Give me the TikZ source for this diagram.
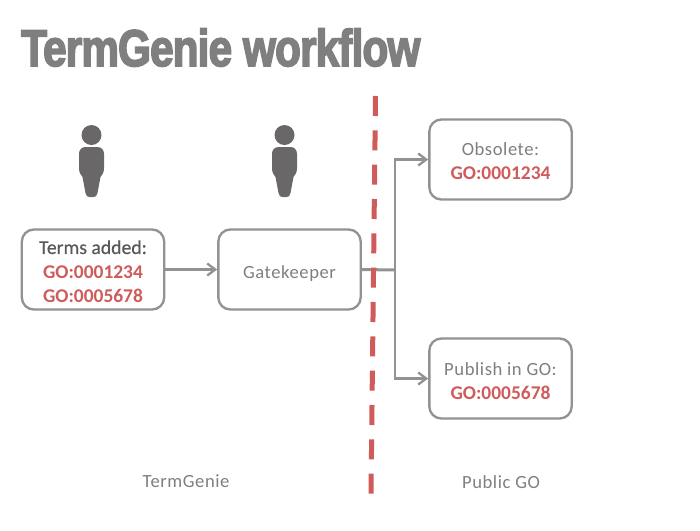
\documentclass[tikz,border=0pt]{standalone}
\usepackage{fontspec}
\setmainfont{Carlito}
\newfontfamily\titlefont[FakeBold=3.5]{Liberation Sans Bold}
\usetikzlibrary{arrows.meta}
\definecolor{box_gray}{HTML}{929292}
\definecolor{text_gray}{HTML}{7F7F7F}
\definecolor{dark_gray}{HTML}{595959}
\definecolor{go_red}{HTML}{CF5B5B}
\definecolor{person_gray}{HTML}{6A6768}
\newcommand{\goid}[1]{{\color{go_red}\fontsize{16.6}{20.6}\selectfont\bfseries #1}}
\newcommand{\lift}[1]{\rule{0pt}{#1}}
\newcommand{\person}[1]{
  \fill[person_gray,shift={(#1,0)}] (0,135) circle (10);
  \fill[person_gray,shift={(#1,0)}] (-6,147) -- (6,147)
    .. controls (10,147) and (12.5,150) .. (12.5,154) -- (12.5,168)
    .. controls (12.5,172) and (11,175) .. (9,177) -- (6,193)
    .. controls (5.6,196) and (4,197) .. (2,197) -- (-2,197)
    .. controls (-4,197) and (-5.6,196) .. (-6,193) -- (-9,177)
    .. controls (-11,175) and (-12.5,172) .. (-12.5,168) -- (-12.5,154)
    .. controls (-12.5,150) and (-10,147) .. (-6,147) -- cycle;
}
\tikzset{
  termbox/.style={draw=box_gray,line width=0.7mm,rounded corners=3.6mm,fill=white,
    minimum width=42.7mm,minimum height=24mm,inner sep=0pt,align=center,
    text=text_gray,font=\fontsize{15.9}{20.6}\selectfont},
  flow/.style={draw=box_gray,line width=0.7mm,-{Straight Barb[length=2.4mm,width=3.6mm]}},
  caption/.style={text=text_gray,font=\fontsize{15.9}{18}\selectfont}
}
\begin{document}
\begin{tikzpicture}[x=0.3mm,y=-0.3mm]
  \useasboundingbox (0,0) rectangle (700,530);
  % Titre
  \node[text=text_gray,anchor=base west,inner sep=0pt] (title) at (21,66)
    {\scalebox{0.82}[1]{\titlefont\fontsize{44}{44}\selectfont\addfontfeature{LetterSpace=-2}TermGenie workflow}};
  % Personnes
  \person{91.5}
  \person{284.5}
  % Boites
  \node[termbox] (terms) at (93,269.5) {\lift{5.2mm}{\color{dark_gray}\fontsize{16.8}{20.6}\selectfont\addfontfeature{FakeBold=0.4}Terms added:}\\\goid{GO:0001234}\\\goid{GO:0005678}};
  \node[termbox] (gate) at (289.5,269.5) {\lift{6.4mm}\addfontfeature{LetterSpace=3}Gatekeeper};
  \node[termbox] (obsolete) at (500.5,159.5) {\lift{5mm}\addfontfeature{LetterSpace=3}Obsolete:\\\goid{GO:0001234}};
  \node[termbox] (publish) at (500.5,378.5) {\lift{5.2mm}\addfontfeature{LetterSpace=3}Publish in GO:\\\goid{GO:0005678}};
  % Fleches
  \coordinate (split) at (395,270);
  \draw[flow] (terms.east) -- (gate.west);
  \draw[draw=box_gray,line width=0.9mm] (gate.east) -- (split);
  \draw[flow] (split) |- (obsolete.west);
  \draw[flow] (split) |- (publish.west);
  % Ligne rouge
  \coordinate (top) at (375.5,96);
  \coordinate (bottom) at (371,494);
  \draw[go_red,line width=1.5mm,dash pattern=on 6mm off 4.3mm] (top) -- (bottom);
  % Legendes
  \node[caption] (termgenie) at (186,481) {\addfontfeature{LetterSpace=3}TermGenie};
  \node[caption] (publicgo) at (501,482) {\addfontfeature{LetterSpace=3}Public GO};
\end{tikzpicture}
\end{document}
